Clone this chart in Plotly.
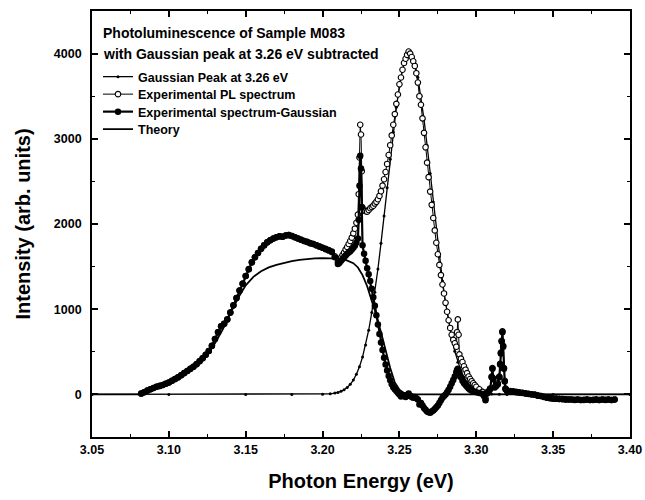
import plotly.graph_objects as go

FONT = "Arial, Liberation Sans, sans-serif"

# ---------------- data ----------------
# experimental energies (eV), low-energy band
e_low = [3.082, 3.084, 3.086, 3.088, 3.090, 3.092, 3.094, 3.096, 3.098, 3.100,
         3.102, 3.104, 3.106, 3.108, 3.110, 3.112, 3.114, 3.116, 3.118, 3.120,
         3.122, 3.124, 3.126, 3.128, 3.130, 3.132, 3.134, 3.136, 3.138, 3.140,
         3.142, 3.144, 3.146, 3.148, 3.150, 3.152, 3.154, 3.156, 3.158, 3.160,
         3.162, 3.164, 3.166, 3.168, 3.170, 3.172, 3.174, 3.176, 3.178, 3.180,
         3.182, 3.184, 3.186, 3.188, 3.190, 3.192, 3.194, 3.196, 3.198, 3.200,
         3.202, 3.204, 3.206, 3.208, 3.210]
diff_low = [10, 25, 45, 60, 75, 90, 100, 110, 125, 140,
            160, 180, 200, 225, 250, 275, 300, 325, 355, 390,
            425, 465, 510, 570, 650, 730, 800, 830, 880, 960,
            1045, 1130, 1220, 1300, 1390, 1470, 1550, 1610, 1660, 1710,
            1750, 1785, 1810, 1830, 1845, 1855, 1850, 1865, 1870, 1860,
            1845, 1830, 1815, 1800, 1790, 1775, 1765, 1750, 1735, 1720,
            1705, 1690, 1670, 1610, 1530]
pl_low = [10, 25, 45, 60, 75, 90, 100, 110, 125, 140,
          160, 180, 200, 225, 250, 275, 300, 325, 355, 390,
          425, 465, 510, 570, 650, 730, 800, 830, 880, 960,
          1045, 1130, 1220, 1300, 1390, 1470, 1550, 1610, 1660, 1710,
          1750, 1785, 1810, 1830, 1845, 1855, 1850, 1865, 1870, 1860,
          1845, 1830, 1815, 1800, 1790, 1775, 1765, 1750, 1735, 1722,
          1708, 1694, 1678, 1622, 1553]

# peak region
e_mid = [3.211, 3.212, 3.213, 3.214, 3.215, 3.216, 3.217, 3.218, 3.219, 3.220,
         3.221, 3.222, 3.223, 3.2235, 3.224, 3.2245, 3.225, 3.2255, 3.226, 3.227,
         3.228, 3.229, 3.230, 3.231, 3.232, 3.233, 3.234, 3.235, 3.236, 3.237,
         3.238, 3.239, 3.240, 3.241, 3.242, 3.243, 3.244, 3.245, 3.246, 3.247,
         3.248, 3.249, 3.250, 3.251, 3.252, 3.253, 3.254, 3.255, 3.256, 3.257,
         3.258, 3.259, 3.260, 3.261, 3.262, 3.263, 3.264, 3.265, 3.266, 3.267,
         3.268, 3.269, 3.270, 3.271, 3.272, 3.273, 3.274, 3.275, 3.276, 3.277,
         3.278, 3.279, 3.280, 3.281, 3.282, 3.283, 3.284, 3.285, 3.286, 3.287,
         3.2875, 3.288, 3.2885, 3.289, 3.290, 3.291, 3.292, 3.293, 3.294, 3.295,
         3.296, 3.297, 3.298, 3.299, 3.300]
diff_mid = [1545, 1570, 1590, 1610, 1630, 1650, 1665, 1680, 1700, 1720,
            1745, 1780, 1830, 2050, 2450, 2800, 2650, 2200, 1750, 1650,
            1570, 1480, 1410, 1330, 1240, 1140, 1040, 930, 820, 710,
            610, 520, 430, 350, 280, 215, 165, 120, 85, 60,
            40, 20, 0, -25, -15, -10, -30, -20, 10, -15,
            -30, -40, -30, -45, -60, -120, -100, -130, -160, -180,
            -200, -210, -215, -200, -190, -170, -150, -130, -100, -70,
            -40, -20, 0, 25, 55, 90, 130, 170, 210, 260,
            285, 300, 280, 250, 200, 160, 130, 110, 90, 70,
            55, 45, 35, 30, 24]
pl_mid = [1575, 1605, 1635, 1665, 1700, 1730, 1765, 1800, 1840, 1890,
          1945, 2015, 2110, 2350, 2780, 3165, 3050, 2620, 2190, 2155,
          2150, 2145, 2165, 2185, 2200, 2215, 2240, 2260, 2290, 2330,
          2385, 2450, 2525, 2610, 2705, 2810, 2925, 3040, 3165, 3290,
          3410, 3520, 3640, 3720, 3810, 3890, 3940, 3985, 4025, 4000,
          3960, 3910, 3855, 3770, 3660, 3500, 3400, 3240, 3070, 2900,
          2720, 2550, 2380, 2225, 2070, 1925, 1780, 1645, 1520, 1400,
          1290, 1185, 1075, 970, 870, 780, 700, 640, 600, 560,
          730, 880, 700, 470, 420, 380, 330, 290, 250, 210,
          180, 155, 130, 110, 90]

# high-energy tail
e_high = [3.302, 3.304, 3.305, 3.306, 3.307, 3.308, 3.309, 3.310, 3.3105, 3.311,
          3.312, 3.313, 3.314, 3.315, 3.3155, 3.316, 3.3165, 3.317, 3.3175, 3.318,
          3.3185, 3.319, 3.320, 3.322, 3.324, 3.326, 3.328, 3.330, 3.332, 3.334,
          3.336, 3.338, 3.340, 3.342, 3.344, 3.346, 3.348, 3.350, 3.352, 3.354,
          3.356, 3.358, 3.360, 3.362, 3.364, 3.366, 3.368, 3.370, 3.372, 3.374,
          3.376, 3.378, 3.380, 3.382, 3.384, 3.386, 3.388, 3.390]
diff_high = [15, 5, -20, -70, 10, 30, 60, 200, 300, 180,
             80, 100, 120, 200, 350, 480, 620, 730, 560, 300,
             150, 60, 40, 35, 30, 25, 20, 15, 10, 5,
             0, -5, -15, -20, -30, -40, -45, -50, -50, -55,
             -55, -60, -60, -60, -65, -60, -65, -65, -60, -65,
             -65, -60, -65, -60, -65, -60, -65, -60]
pl_high = [60, 30, 5, -50, 25, 40, 70, 210, 310, 190,
           90, 110, 130, 210, 360, 490, 630, 740, 570, 310,
           160, 70, 45, 40, 35, 30, 25, 20, 12, 8,
           2, -3, -12, -18, -28, -38, -43, -48, -50, -53,
           -55, -58, -60, -60, -63, -60, -65, -63, -60, -65,
           -63, -60, -65, -60, -63, -60, -65, -60]

# Gaussian peak at 3.26 eV
gauss_e = [3.05, 3.10, 3.15, 3.18, 3.200, 3.205, 3.208,
           3.210, 3.212, 3.214, 3.216, 3.218, 3.220, 3.222, 3.224, 3.226, 3.228,
           3.230, 3.232, 3.234, 3.236, 3.238, 3.240, 3.242, 3.244, 3.246, 3.248,
           3.250, 3.252, 3.254, 3.256, 3.258, 3.260, 3.262, 3.264, 3.266, 3.268,
           3.270, 3.272, 3.274, 3.276, 3.278, 3.280, 3.282, 3.284, 3.286, 3.288,
           3.290, 3.292, 3.294, 3.296, 3.298, 3.300, 3.302, 3.304, 3.306, 3.308,
           3.310, 3.315, 3.320, 3.350, 3.400]
gauss_v = [0, 0, 0, 0, 2, 7, 15,
           23, 36, 55, 81, 118, 168, 236, 324, 438, 580,
           753, 960, 1200, 1472, 1773, 2094, 2426, 2759, 3078, 3369,
           3618, 3812, 3941, 3998, 3979, 3885, 3722, 3499, 3227, 2921,
           2593, 2259, 1931, 1619, 1332, 1076, 852, 662, 505, 378,
           277, 200, 141, 98, 67, 44, 29, 19, 12, 7,
           4, 1, 0, 0, 0]

# Theory curve
theory_e = [3.05, 3.08, 3.085, 3.09, 3.095, 3.10, 3.105, 3.11, 3.115, 3.12,
            3.125, 3.13, 3.135, 3.14, 3.145, 3.15, 3.155, 3.16, 3.165, 3.17,
            3.175, 3.18, 3.185, 3.19, 3.195, 3.20, 3.205, 3.21, 3.215, 3.22,
            3.223, 3.226, 3.229, 3.232, 3.235, 3.238, 3.241, 3.244, 3.247, 3.25,
            3.253, 3.256, 3.26, 3.30, 3.40]
theory_v = [0, 0, 15, 50, 95, 140, 190, 245, 305, 380,
            470, 600, 760, 950, 1130, 1280, 1380, 1445, 1490, 1520,
            1545, 1565, 1580, 1590, 1597, 1600, 1600, 1593, 1578, 1540,
            1490, 1400, 1270, 1110, 930, 730, 520, 310, 140, 55,
            18, 5, 0, 0, 0]

series_names = ["Gaussian Peak at 3.26 eV", "Experimental PL spectrum",
                "Experimental spectrum-Gaussian", "Theory"]

exp_e = e_low + e_mid + e_high
exp_pl = pl_low + pl_mid + pl_high
exp_diff = diff_low + diff_mid + diff_high

# ---------------- figure ----------------
fig = go.Figure()
fig.add_trace(go.Scatter(
    x=gauss_e, y=gauss_v, mode="lines+markers", name=series_names[0], legend="legend",
    line=dict(color="black", width=1.3), marker=dict(color="black", size=3)))
fig.add_trace(go.Scatter(
    x=exp_e, y=exp_pl, mode="lines+markers", name=series_names[1], legend="legend2",
    line=dict(color="black", width=1),
    marker=dict(symbol="circle", color="white", size=5.5,
                line=dict(color="black", width=1.1))))
fig.add_trace(go.Scatter(
    x=exp_e, y=exp_diff, mode="lines+markers", name=series_names[2], legend="legend3",
    line=dict(color="black", width=2.2), marker=dict(color="black", size=6.5)))
fig.add_trace(go.Scatter(
    x=theory_e, y=theory_v, mode="lines", name=series_names[3], legend="legend4",
    line=dict(color="black", width=1.8)))

W, H = 645, 500
L, R, T, B = 92, 15, 11, 63
pw, ph = W - L - R, H - T - B


def px_x(px):
    return (px - L) / pw


def px_y(py):
    return 1 - (py - T) / ph


title_font = dict(family=FONT, size=14, color="black", weight="bold")
fig.add_annotation(text="Photoluminescence of Sample M083", xref="paper", yref="paper",
                   x=px_x(101), y=px_y(33), xanchor="left", yanchor="middle",
                   showarrow=False, font=title_font)
fig.add_annotation(text="with Gaussian peak at 3.26 eV subtracted", xref="paper", yref="paper",
                   x=px_x(101), y=px_y(54), xanchor="left", yanchor="middle",
                   showarrow=False, font=title_font)

axis_common = dict(showline=True, linecolor="black", linewidth=1.8, mirror="allticks",
                   ticks="inside", ticklen=6, tickwidth=1.5, tickcolor="black",
                   showgrid=False, zeroline=False,
                   tickfont=dict(family=FONT, size=12.5, color="black", weight="bold"))

fig.update_xaxes(range=[3.05, 3.40], tick0=3.05, dtick=0.05, tickformat=".2f",
                 minor=dict(dtick=0.025, ticks="inside", ticklen=3.5, tickwidth=1.2,
                            tickcolor="black", showgrid=False),
                 title=dict(text="Photon Energy (eV)", standoff=18,
                            font=dict(family=FONT, size=20, color="black", weight="bold")),
                 **axis_common)
fig.update_yaxes(range=[-500, 4500], tickvals=[0, 1000, 2000, 3000, 4000],
                 minor=dict(tickvals=[-500, 500, 1500, 2500, 3500], ticks="inside",
                            ticklen=3.5, tickwidth=1.2, tickcolor="black", showgrid=False),
                 ticklabelstandoff=6,
                 title=dict(text="Intensity (arb. units)", standoff=18,
                            font=dict(family=FONT, size=20, color="black", weight="bold")),
                 **axis_common)

legend_font = dict(family=FONT, size=12.5, color="black", weight="bold")
row_y = [77, 94.5, 112, 129.5]
legends = {}
for i, key in enumerate(["legend", "legend2", "legend3", "legend4"]):
    legends[key] = dict(x=px_x(98), y=px_y(row_y[i]), xanchor="left", yanchor="middle",
                        bgcolor="rgba(0,0,0,0)", borderwidth=0, itemwidth=30,
                        font=legend_font)

fig.update_layout(
    width=W, height=H,
    margin=dict(l=L, r=R, t=T, b=B, autoexpand=False),
    paper_bgcolor="white", plot_bgcolor="white",
    showlegend=True,
    **legends,
)

fig.write_html("out.html", config={"displayModeBar": False},
               post_script="document.body.style.margin='0';")
